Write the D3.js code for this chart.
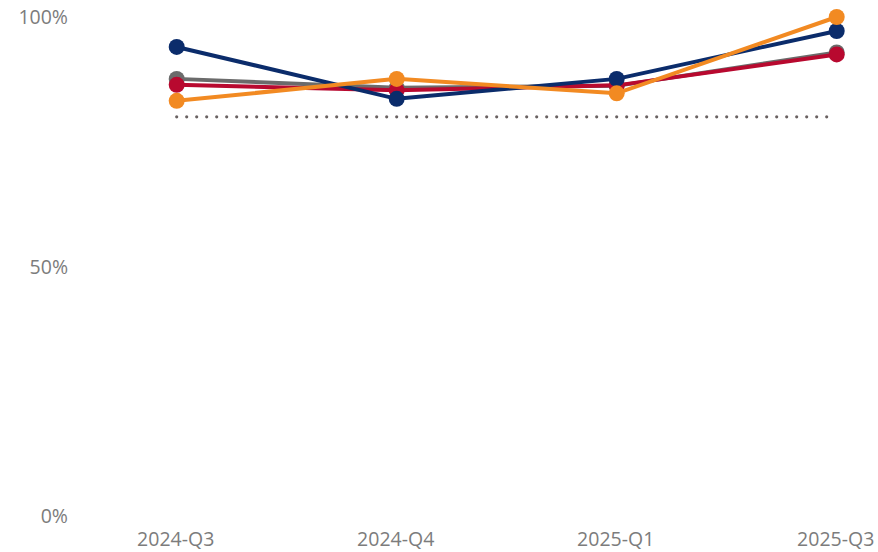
<!DOCTYPE html>
<html>
<head>
<meta charset="utf-8">
<script src="https://cdn.jsdelivr.net/npm/d3@7"></script>
<style>
  html, body { margin: 0; padding: 0; background: #fff; }
  #chart { width: 878px; height: 552px; }
  text { font-family: "Open Sans", "Noto Sans", sans-serif; }
</style>
</head>
<body>
<div id="chart"></div>
<script>
// Quarterly share, four series plus an 80% target
const quarters = ["2024-Q3", "2024-Q4", "2025-Q1", "2025-Q3"];
const grey = [87.6, 85.8, 86.2, 92.9];
const red = [86.4, 85.3, 86.3, 92.5];
const navy = [94.0, 83.6, 87.6, 97.2];
const orange = [83.2, 87.6, 84.7, 100];
const target = 80;
const yTicks = [0, 50, 100];

(function () {
  const width = 878;
  const height = 552;

  const svg = d3.select("#chart")
    .append("svg")
    .attr("width", width)
    .attr("height", height);

  const x = d3.scalePoint().domain(quarters).range([176.7, 836.7]);
  const y = d3.scaleLinear().domain([0, 100]).range([516, 17]);

  const series = [
    { name: "grey", values: grey, color: "#6b6b6b" },
    { name: "red", values: red, color: "#b8092f" },
    { name: "navy", values: navy, color: "#0b2c6b" },
    { name: "orange", values: orange, color: "#f28a22" },
  ];

  // y axis labels
  svg.append("g")
    .selectAll("text")
    .data(yTicks)
    .join("text")
    .attr("x", 68)
    .attr("y", (d) => y(d) + 7)
    .attr("text-anchor", "end")
    .attr("fill", "#7c7c7c")
    .attr("font-size", 19.5)
    .text((d) => d + "%");

  // x axis labels
  svg.append("g")
    .selectAll("text")
    .data(quarters)
    .join("text")
    .attr("x", (d) => x(d) - 1)
    .attr("y", 546)
    .attr("text-anchor", "middle")
    .attr("fill", "#7c7c7c")
    .attr("font-size", 19.5)
    .text((d) => d);

  // target
  svg.append("line")
    .attr("x1", x(quarters[0]))
    .attr("x2", x(quarters[quarters.length - 1]) - 5)
    .attr("y1", y(target))
    .attr("y2", y(target))
    .attr("stroke", "#6a6262")
    .attr("stroke-width", 3.2)
    .attr("stroke-linecap", "round")
    .attr("stroke-dasharray", "0 10");

  const line = d3.line()
    .x((d, i) => x(quarters[i]))
    .y((d) => y(d));

  series.forEach((s) => {
    const g = svg.append("g");
    g.append("path")
      .attr("d", line(s.values))
      .attr("fill", "none")
      .attr("stroke", s.color)
      .attr("stroke-width", 4);
    g.selectAll("circle")
      .data(s.values)
      .join("circle")
      .attr("cx", (d, i) => x(quarters[i]))
      .attr("cy", (d) => y(d))
      .attr("r", 8)
      .attr("fill", s.color);
  });
})();
</script>
</body>
</html>
